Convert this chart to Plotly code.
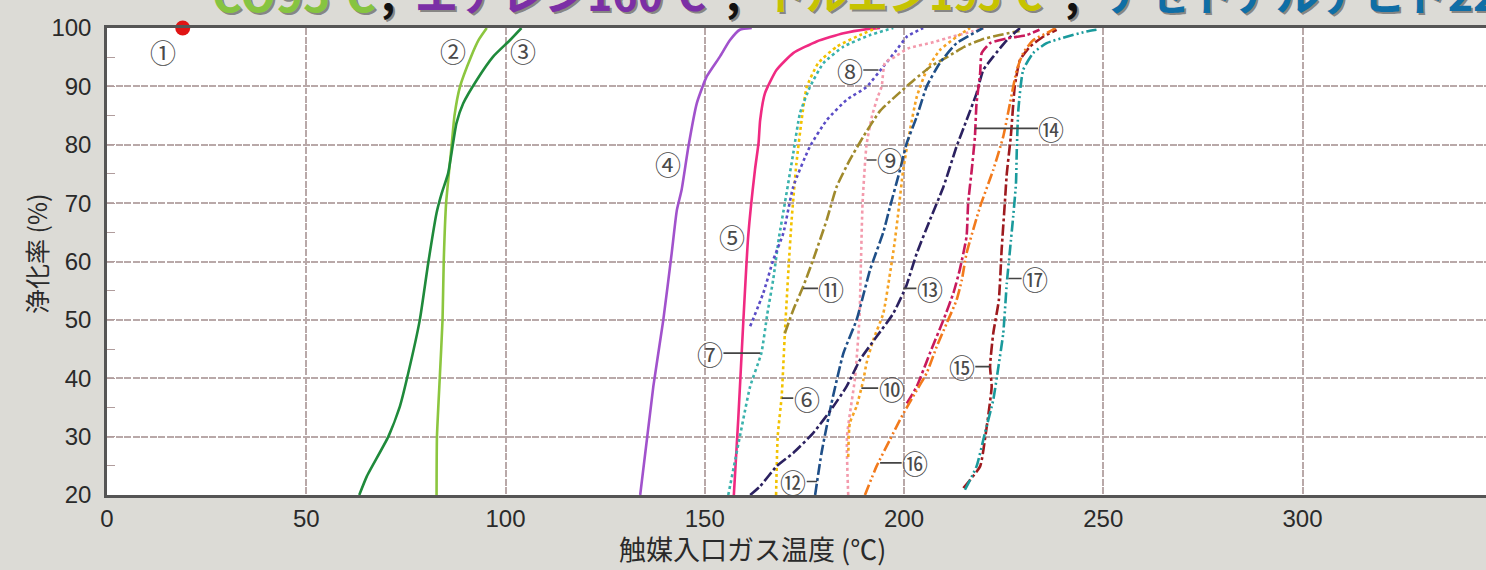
import plotly.graph_objects as go

# ---- conversion curves: inlet gas temperature (°C) vs. purification rate (%) ----
t1 = [19.0]
c1 = [100.0]

t2 = [82.7, 82.8, 83.5, 84.2, 84.5, 85.1, 86.5, 87.2, 88.6, 91.3, 93.3, 95.3]
c2 = [20, 30, 40, 50, 60, 70, 80, 85, 90, 95, 98, 100]

t3 = [63.3, 65.2, 70.6, 73.5, 75.6, 78.5, 80.6, 82.7, 84.0, 85.6, 87.7, 89.4, 92.8, 96.9, 101.1, 104.0]
c3 = [20, 23.2, 30, 35.2, 40.9, 50, 59.7, 68.3, 71.7, 75.1, 83.7, 87.1, 91.1, 95.1, 97.9, 100]

t4 = [133.8, 137.1, 139.6, 141.7, 143.0, 144.2, 145.9, 148.0, 150.5, 153.8, 156.3, 158.8, 161.8]
c4 = [20, 38.6, 50, 61.4, 68.8, 72.3, 79.7, 87.1, 91.7, 95.1, 97.9, 99.7, 100]

t5 = [157.3, 158.4, 159.7, 160.9, 162.6, 163.5, 163.9, 165.1, 168.0, 172.2, 178.1, 184.8, 190.6, 194.0]
c5 = [20, 32.9, 50, 64.3, 75.7, 80.3, 84.2, 88.8, 92.8, 95.7, 97.7, 99.1, 99.8, 100]

t6 = [167.9, 168.3, 169.3, 170.1, 171.0, 171.8, 173.0, 174.3, 175.6, 178.5, 183.1, 189.0, 193.1]
c6 = [20, 30, 36.9, 47.7, 58.6, 67.1, 76.8, 84.2, 89.9, 94.0, 96.8, 98.8, 100]

t7 = [155.9, 158.8, 161.4, 164.2, 165.7, 167.2, 168.6, 170.1, 172.2, 173.9, 176.4, 179.8, 184.8, 191.5, 197.3]
c7 = [20, 30, 38.6, 44.3, 51, 57, 64, 70, 78.5, 85.4, 89.9, 94, 96.8, 98.8, 100]

t8 = [161.4, 164.7, 167.2, 169.7, 172.2, 176.4, 180.6, 185.6, 190.6, 194.8, 198.1, 200.7, 204.8]
c8 = [48.9, 54.6, 60.3, 64.8, 72.8, 79.7, 84.2, 87.7, 89.9, 93.4, 96.2, 98.5, 100]

t9 = [186.0, 185.7, 187.7, 188.8, 189.2, 189.6, 190.6, 192.0, 193.3, 194.4, 195.2, 197.8, 201.0, 207.0, 212.0, 217.0, 220.0]
c9 = [20, 30, 40, 50, 60, 70, 80, 85, 88, 90, 94, 95.1, 96.5, 97.5, 98.5, 99.4, 100]

t10 = [186.0, 186.4, 188.1, 189.8, 190.6, 192.3, 194.8, 196.5, 197.6, 198.5, 199.8, 201.5, 203.2, 205.7, 209.0, 213.2, 216.6]
c10 = [26.5, 32.3, 35.2, 39.7, 42.6, 46.6, 51.1, 58, 63, 68, 75.7, 82.5, 88.2, 92.8, 96.2, 98.5, 100]

t11 = [170.1, 172.2, 174.7, 177.2, 180.6, 183.1, 186.4, 189.8, 194.0, 198.2, 202.5, 206.7, 211.0, 215.2, 219.4, 224.0, 229.0]
c11 = [47.7, 51.7, 55.7, 60.3, 67.1, 72.8, 77.4, 81.4, 85.8, 88.5, 91.1, 93.4, 95.1, 96.8, 98.0, 98.8, 99.5]

t12 = [177.7, 179.3, 181.8, 184.8, 188.1, 191.5, 194.8, 196.5, 199.0, 200.7, 203.2, 205.7, 209.0, 213.2, 218.2, 219.8]
c12 = [20, 27.2, 35.7, 44.3, 50, 58.6, 65, 69.4, 75.7, 80.3, 84.8, 90, 94, 97.4, 99.4, 100]

t13 = [161.4, 163.9, 168.0, 172.2, 177.2, 182.3, 185.6, 189.0, 193.1, 197.3, 200.5, 203.2, 206.5, 209.9, 213.2,
       215.7, 218.2, 219.9, 222.4, 225.8, 229.1]
c13 = [20, 21.5, 24.9, 27.2, 30.6, 35.2, 38.6, 43.2, 47.1, 51.1, 55.7, 61.4, 67.1, 72.8, 79.7,
       84.2, 88.8, 92.8, 95.1, 97.9, 100]

t14 = [200.7, 203.2, 206.5, 209.9, 212.4, 214.0, 215.7, 216.1, 217.0, 217.8, 218.2, 219.1, 219.5, 221.6, 225.8, 230.8, 234.0]
c14 = [35.7, 38.6, 44.3, 50, 54.6, 58.6, 64.3, 70, 75.7, 81.4, 87.1, 92.2, 95.7, 97.4, 98.2, 98.8, 99.7]

t15 = [214.9, 219.1, 220.3, 221.1, 222.0, 221.6, 222.4, 223.8, 224.5, 225.3, 225.8, 226.8, 227.8, 229.1, 231.6, 234.9, 238.3]
c15 = [21.2, 24.9, 29.5, 33.4, 38.6, 42, 47.7, 53.4, 62, 70, 75.1, 81.4, 90, 94.5, 96.8, 98.5, 99.7]

t16 = [190.2, 193.1, 196.5, 199.0, 202.3, 205.7, 208.2, 210.7, 213.2, 214.5, 215.7, 219.1, 222.4, 224.9, 226.6,
       228.3, 229.9, 232.4, 236.6, 238.0]
c16 = [20, 24.9, 29.5, 32.9, 36.9, 40.9, 45.4, 49.4, 53.4, 56.8, 61.4, 69.4, 75.7, 81.4, 87.1,
       92.8, 95.7, 97.9, 99.4, 100]

t17 = [215.3, 218.2, 220.3, 222.4, 223.7, 224.9, 225.8, 226.6, 227.4, 228.1, 228.3, 228.7, 229.9, 232.4, 235.8, 240.8, 245.8, 248.3]
c17 = [20.9, 24.9, 30.6, 36.3, 42, 47.7, 56.3, 62, 67.7, 73.4, 79.1, 86, 92.8, 95.7, 97.4, 98.5, 99.4, 99.7]

# ---- circled curve labels and their leader-line targets ----
label_text = ["①", "②", "③", "④", "⑤", "⑥", "⑦", "⑧", "⑨", "⑩", "⑪", "⑫", "⑬", "⑭", "⑮", "⑯", "⑰"]
label_x = [14.1, 86.9, 104.5, 140.9, 156.8, 175.6, 151.3, 186.4, 196.5, 196.9, 181.8, 172.2, 206.5, 237.0, 214.5, 202.8, 232.9]
label_y = [95.9, 96.2, 96.2, 76.8, 64.3, 36.6, 44.3, 92.8, 77.4, 38.3, 55.4, 22.3, 55.4, 82.8, 42.0, 25.5, 57.1]
leader_x = [None, None, None, None, None, 169.3, 163.9, 193.6, 190.6, 189.3, 174.7, 178.2, 199.8, 217.8, 221.6, 194.0, 226.2]

# ---- axis ticks ----
x_ticks = [0, 50, 100, 150, 200, 250, 300]
y_ticks = [20, 30, 40, 50, 60, 70, 80, 90, 100]

# ---- headline (gas : 100 % conversion temperature) ----
head_parts = ["CO95℃", ",", "エチレン160℃", ",", "トルエン195℃", ",", "アセトアルデヒド220℃"]
head_colors = ["#86c440", "#111111", "#7b2fa6", "#111111", "#c6c300", "#111111", "#0f6ea6"]
head_px = [210, 379, 413, 724, 763, 1063, 1103]
head_size = [46, 44, 43, 44, 41, 44, 43]

W, H = 1486, 570
L, T, B = 107, 28, 75
X_MAX = (W - L) / 3.985

SOLID = "solid"
DOT = "3px,3px"
DASHDOT = "11px,3px,3px,3px"
DASHDOTDOT = "11px,3px,2px,3px,2px,3px"

series = [
    (t2, c2, "#8cc63f", SOLID),
    (t3, c3, "#1f8a3b", SOLID),
    (t4, c4, "#a152cc", SOLID),
    (t5, c5, "#f02a82", SOLID),
    (t6, c6, "#f2c200", DOT),
    (t7, c7, "#3ab2ad", DOT),
    (t8, c8, "#5a4cc6", DOT),
    (t9, c9, "#f39aac", DOT),
    (t10, c10, "#f5a324", DOT),
    (t11, c11, "#a08a2c", DASHDOT),
    (t12, c12, "#1f4f88", DASHDOT),
    (t13, c13, "#2b2160", DASHDOT),
    (t14, c14, "#c81a5c", DASHDOT),
    (t15, c15, "#9e1a1e", DASHDOT),
    (t16, c16, "#f27a1c", DASHDOTDOT),
    (t17, c17, "#1a9a9c", DASHDOTDOT),
]

fig = go.Figure()

for xs, ys, col, dash in series:
    fig.add_trace(go.Scatter(
        x=xs, y=ys, mode="lines",
        line=dict(color=col, width=2.6, dash=dash, shape="spline", smoothing=0.5),
        showlegend=False, hoverinfo="skip",
    ))

# curve ① is a single point at 100 %
fig.add_trace(go.Scatter(
    x=t1, y=c1, mode="markers",
    marker=dict(color="#e01414", size=15, line=dict(width=0)),
    cliponaxis=False, showlegend=False, hoverinfo="skip",
))

annotations = []
LABEL_FONT = dict(family="Noto Sans CJK JP", size=26, color="#4a4a4a")

# circled labels, with leader lines where a target is given
for txt, lx, ly, tx in zip(label_text, label_x, label_y, leader_x):
    if tx is None:
        annotations.append(dict(
            x=lx, y=ly, xref="x", yref="y", text=txt, showarrow=False,
            xanchor="center", yanchor="middle", font=LABEL_FONT,
        ))
    else:
        annotations.append(dict(
            x=tx, y=ly, xref="x", yref="y",
            ax=lx, ay=ly, axref="x", ayref="y",
            text=txt, showarrow=True, arrowhead=0, arrowwidth=1.6,
            arrowcolor="#444444", standoff=0, startstandoff=0, borderpad=0,
            font=LABEL_FONT,
        ))


def px_to_paper_x(px):
    return (px - L) / (W - L)


def px_to_paper_y(py):
    return (H - B - py) / (H - B - T)


# headline, partly above the top edge, with a soft drop shadow;
# the last part is boxed to the figure width so it is clipped at the edge
for i, (part, col, px, sz) in enumerate(zip(head_parts, head_colors, head_px, head_size)):
    box_w = (W - px - 2) if i == len(head_parts) - 1 else None
    for dx, dy, c in [(2, -2, "rgba(60,60,60,0.55)"), (0, 0, col)]:
        ann = dict(
            x=px_to_paper_x(px), y=px_to_paper_y(-8), xref="paper", yref="paper",
            xanchor="left", yanchor="middle", xshift=dx, yshift=dy,
            text="<b>" + part + "</b>", showarrow=False,
            font=dict(family="Noto Sans CJK JP", size=sz, color=c),
        )
        if box_w is not None:
            ann.update(width=box_w - dx, align="left")
        annotations.append(ann)

# axis titles (x title kept fully inside the bottom edge)
annotations.append(dict(
    x=px_to_paper_x(752), y=px_to_paper_y(548), xref="paper", yref="paper",
    xanchor="center", yanchor="middle", borderpad=0,
    text="触媒入口ガス温度 (℃)", showarrow=False,
    font=dict(family="Noto Sans CJK JP", size=27, color="#2a2a2a"),
))
annotations.append(dict(
    x=px_to_paper_x(36), y=px_to_paper_y(254), xref="paper", yref="paper",
    xanchor="center", yanchor="middle",
    text="浄化率 (%)", textangle=-90, showarrow=False,
    font=dict(family="Noto Sans CJK JP", size=25, color="#2a2a2a"),
))

fig.update_layout(
    width=W, height=H,
    autosize=False,
    margin=dict(l=L, r=0, t=T, b=B, pad=0, autoexpand=False),
    paper_bgcolor="#dcdbd6",
    plot_bgcolor="#ffffff",
    annotations=annotations,
    showlegend=False,
)

fig.update_xaxes(
    range=[0, X_MAX], tickvals=x_ticks, automargin=False,
    showgrid=True, gridcolor="#b9a9a9", gridwidth=1.6, griddash="7px,1.5px",
    zeroline=False,
    showline=True, linecolor="#555555", linewidth=3, mirror=True,
    ticks="", tickfont=dict(family="Liberation Sans", size=24, color="#2a2a2a"),
    ticklabelstandoff=0,
)
fig.update_yaxes(
    range=[20, 100], tickvals=y_ticks, automargin=False,
    showgrid=True, gridcolor="#b9a9a9", gridwidth=1.6, griddash="7px,1.5px",
    zeroline=False,
    showline=True, linecolor="#555555", linewidth=2.5, mirror=False,
    ticks="inside", ticklen=8, tickcolor="#b09c9c",
    minor=dict(dtick=5, ticks="inside", ticklen=8, tickcolor="#b09c9c", showgrid=False),
    tickfont=dict(family="Liberation Sans", size=24, color="#2a2a2a"),
    ticklabelstandoff=8,
)

fig.write_html("out.html", config={"responsive": False})
